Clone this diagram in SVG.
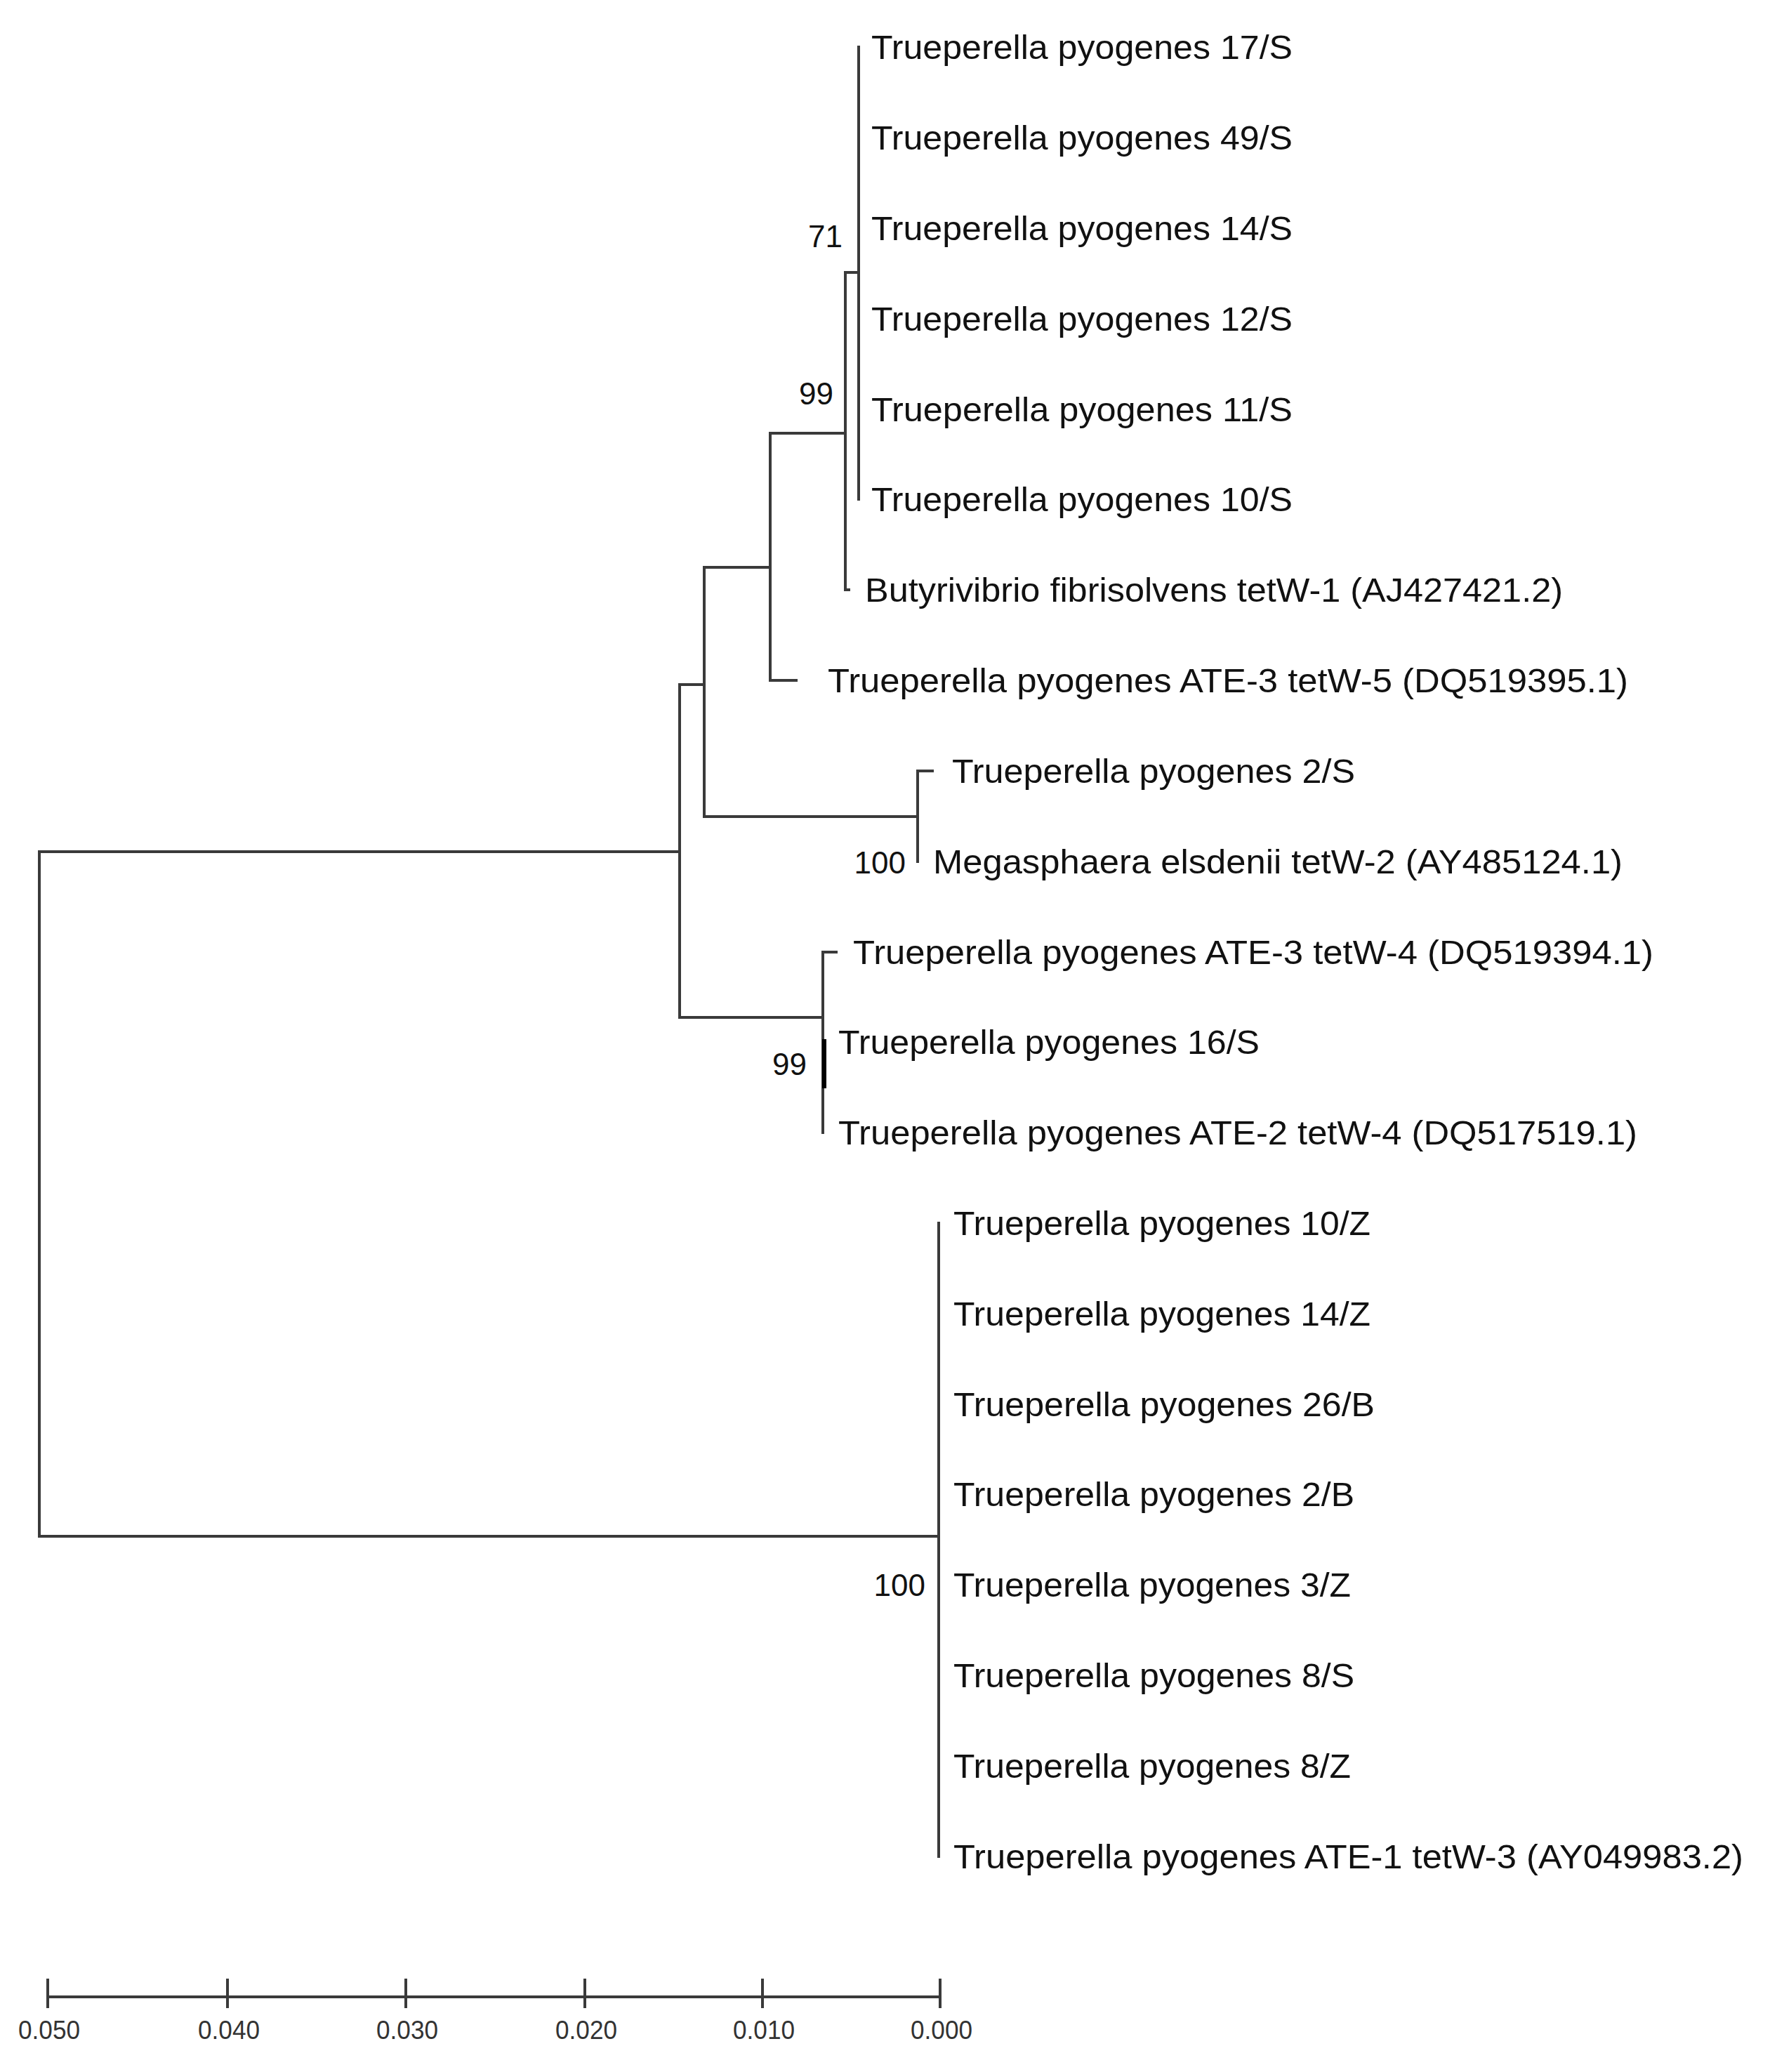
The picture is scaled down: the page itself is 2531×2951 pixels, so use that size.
<svg xmlns="http://www.w3.org/2000/svg" width="2531" height="2951" viewBox="0 0 2531 2951">
<style>
.l{fill:none;stroke:#3a3a3a;stroke-width:4;stroke-linecap:square}
.t{font-family:"Liberation Sans",Arial,sans-serif;font-size:48px;fill:#111}
.b{font-family:"Liberation Sans",Arial,sans-serif;font-size:44px;fill:#111;text-anchor:end}
.s{font-family:"Liberation Sans",Arial,sans-serif;font-size:36px;fill:#333;text-anchor:middle}
</style>
<rect width="2531" height="2951" fill="#fff"/>
<g id="connectors">
<path class="l" d="M56,1213 V2188 M56,1213 H968 M56,2188 H1337"/>
<path class="l" d="M968,975 V1449 M968,975 H1003 M968,1449 H1172"/>
<path class="l" d="M1003,808 V1163 M1003,808 H1097 M1003,1163 H1307"/>
<path class="l" d="M1097,617 V969 M1097,617 H1204 M1097,969 H1134"/>
<path class="l" d="M1204,388 V840 M1204,388 H1223 M1204,840 H1209"/>
<path class="l" d="M1223,67 V711"/>
<path class="l" d="M1307,1098 V1227 M1307,1098 H1328"/>
<path class="l" d="M1172,1356 V1613 M1172,1356 H1191"/>
<path d="M1174,1480 V1550" stroke="#000" stroke-width="6"/>
<path class="l" d="M1337,1742 V2644"/>
</g>
<g id="leaves">
<text class="t" x="1241" y="84" textLength="600" lengthAdjust="spacingAndGlyphs">Trueperella pyogenes 17/S</text>
<text class="t" x="1241" y="213" textLength="600" lengthAdjust="spacingAndGlyphs">Trueperella pyogenes 49/S</text>
<text class="t" x="1241" y="342" textLength="600" lengthAdjust="spacingAndGlyphs">Trueperella pyogenes 14/S</text>
<text class="t" x="1241" y="471" textLength="600" lengthAdjust="spacingAndGlyphs">Trueperella pyogenes 12/S</text>
<text class="t" x="1241" y="600" textLength="600" lengthAdjust="spacingAndGlyphs">Trueperella pyogenes 11/S</text>
<text class="t" x="1241" y="728" textLength="600" lengthAdjust="spacingAndGlyphs">Trueperella pyogenes 10/S</text>
<text class="t" x="1232" y="857" textLength="994" lengthAdjust="spacingAndGlyphs">Butyrivibrio fibrisolvens tetW-1 (AJ427421.2)</text>
<text class="t" x="1179" y="986" textLength="1140" lengthAdjust="spacingAndGlyphs">Trueperella pyogenes ATE-3 tetW-5 (DQ519395.1)</text>
<text class="t" x="1356" y="1115" textLength="574" lengthAdjust="spacingAndGlyphs">Trueperella pyogenes 2/S</text>
<text class="t" x="1329" y="1244" textLength="982" lengthAdjust="spacingAndGlyphs">Megasphaera elsdenii tetW-2 (AY485124.1)</text>
<text class="t" x="1215" y="1373" textLength="1140" lengthAdjust="spacingAndGlyphs">Trueperella pyogenes ATE-3 tetW-4 (DQ519394.1)</text>
<text class="t" x="1194" y="1501" textLength="600" lengthAdjust="spacingAndGlyphs">Trueperella pyogenes 16/S</text>
<text class="t" x="1194" y="1630" textLength="1138" lengthAdjust="spacingAndGlyphs">Trueperella pyogenes ATE-2 tetW-4 (DQ517519.1)</text>
<text class="t" x="1358" y="1759" textLength="594" lengthAdjust="spacingAndGlyphs">Trueperella pyogenes 10/Z</text>
<text class="t" x="1358" y="1888" textLength="594" lengthAdjust="spacingAndGlyphs">Trueperella pyogenes 14/Z</text>
<text class="t" x="1358" y="2017" textLength="600" lengthAdjust="spacingAndGlyphs">Trueperella pyogenes 26/B</text>
<text class="t" x="1358" y="2145" textLength="571" lengthAdjust="spacingAndGlyphs">Trueperella pyogenes 2/B</text>
<text class="t" x="1358" y="2274" textLength="566" lengthAdjust="spacingAndGlyphs">Trueperella pyogenes 3/Z</text>
<text class="t" x="1358" y="2403" textLength="571" lengthAdjust="spacingAndGlyphs">Trueperella pyogenes 8/S</text>
<text class="t" x="1358" y="2532" textLength="566" lengthAdjust="spacingAndGlyphs">Trueperella pyogenes 8/Z</text>
<text class="t" x="1358" y="2661" textLength="1125" lengthAdjust="spacingAndGlyphs">Trueperella pyogenes ATE-1 tetW-3 (AY049983.2)</text>
</g>
<g id="bootstrap">
<text class="b" x="1200" y="352">71</text>
<text class="b" x="1187" y="576">99</text>
<text class="b" x="1290" y="1244">100</text>
<text class="b" x="1149" y="1531">99</text>
<text class="b" x="1318" y="2273">100</text>
</g>
<g id="scale">
<path class="l" d="M68,2844 H1339 M68,2820 V2858 M324,2820 V2858 M578,2820 V2858 M833,2820 V2858 M1086,2820 V2858 M1339,2820 V2858"/>
<text class="s" x="70" y="2904" textLength="88" lengthAdjust="spacingAndGlyphs">0.050</text>
<text class="s" x="326" y="2904" textLength="88" lengthAdjust="spacingAndGlyphs">0.040</text>
<text class="s" x="580" y="2904" textLength="88" lengthAdjust="spacingAndGlyphs">0.030</text>
<text class="s" x="835" y="2904" textLength="88" lengthAdjust="spacingAndGlyphs">0.020</text>
<text class="s" x="1088" y="2904" textLength="88" lengthAdjust="spacingAndGlyphs">0.010</text>
<text class="s" x="1341" y="2904" textLength="88" lengthAdjust="spacingAndGlyphs">0.000</text>
</g>
</svg>
